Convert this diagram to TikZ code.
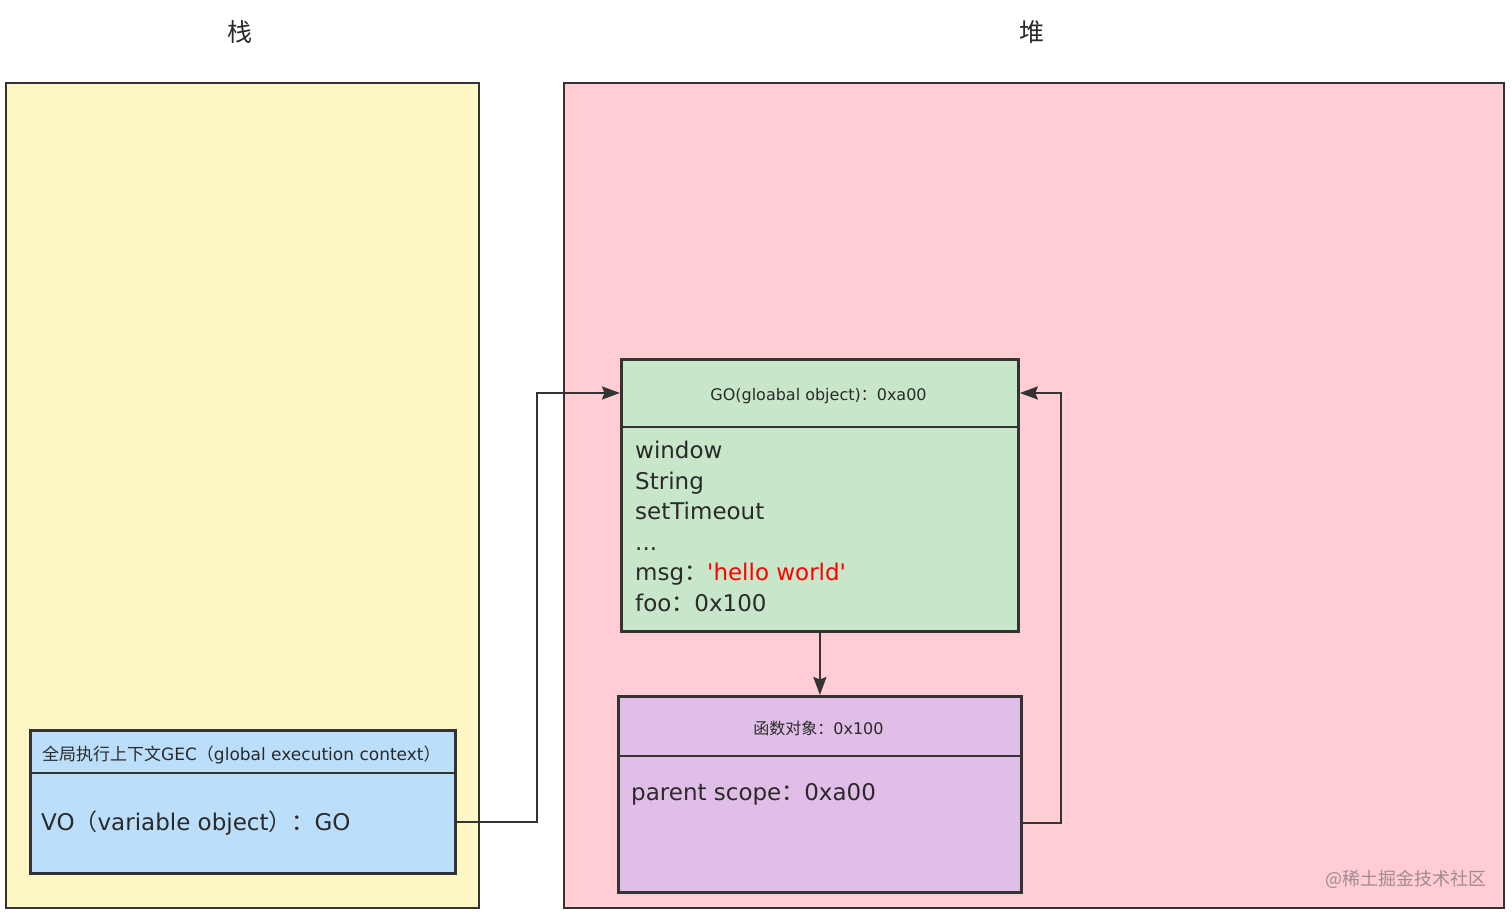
\documentclass[tikz,border=0pt]{standalone}
\usepackage{fontspec}
\setmainfont{DejaVu Sans}
\newfontfamily\qf{DejaVu Sans}
\newfontfamily\cjk{Noto Sans CJK SC}
\newcommand\zh[1]{{\cjk #1}}
\usetikzlibrary{arrows.meta}
\definecolor{stackfill}{HTML}{FDF7C5}
\definecolor{heapfill}{HTML}{FFCDD3}
\definecolor{gofill}{HTML}{C8E6C9}
\definecolor{fnfill}{HTML}{E1BEE7}
\definecolor{gecfill}{HTML}{BBDEFB}
\definecolor{edge}{HTML}{333333}
\definecolor{txt}{HTML}{2A2A2A}
\definecolor{wm}{HTML}{A08C90}
\tikzset{headtip/.tip={Stealth[length=18pt,width=13pt,inset=2.5pt]}}
\begin{document}
\begin{tikzpicture}[x=1pt,y=-1pt,
  region/.style={draw=edge,line width=2pt,anchor=north west,inner sep=0pt},
  objbox/.style={draw=edge,line width=2.8pt,anchor=north west,inner sep=0pt},
  divider/.style={draw=edge,line width=2.8pt},
  title/.style={font=\cjk\fontsize{25}{25}\selectfont,text=txt,inner sep=0pt},
  head/.style={font=\fontsize{16}{16}\selectfont,text=txt,inner sep=0pt,anchor=base},
  body/.style={font=\fontsize{23}{23}\selectfont,text=txt,inner sep=0pt,anchor=base west},
  link/.style={draw=edge,line width=2.2pt,-headtip}]
\useasboundingbox (0,0) rectangle (1512,913);
\fill[white] (0,0) rectangle (1512,913);
% regions
\node[region,fill=stackfill,minimum width=473,minimum height=825] (stack) at (5,82) {};
\node[region,fill=heapfill,minimum width=940,minimum height=825] (heap) at (563,82) {};
\node[title] (ttstack) at (240,32) {栈};
\node[title] (ttheap) at (1032,32) {堆};
% GO box
\node[objbox,fill=gofill,minimum width=397,minimum height=272] (go) at (620,358) {};
\draw[divider] (620,427) -- (1017,427);
\node[head] (gohead) at (818.5,400) {GO(gloabal object)\zh{：}0xa00};
\node[body] (l1) at (635,458) {window};
\node[body] (l2) at (635,489) {String};
\node[body] (l3) at (635,519.5) {setTimeout};
\node[body] (l4) at (635,550) {...};
\node[body] (l5) at (635,580.5) {msg\zh{：}\textcolor{red}{{\qf'}hello world{\qf'}}};
\node[body] (l6) at (635,611) {foo\zh{：}0x100};
% function object
\node[objbox,fill=fnfill,minimum width=403,minimum height=196] (fn) at (617,695) {};
\draw[divider] (617,756) -- (1020,756);
\node[head] (fnhead) at (818.5,734) {\zh{函数对象：}0x100};
\node[body] (ps) at (631,800.5) {parent scope\zh{：}0xa00};
% GEC
\node[objbox,fill=gecfill,minimum width=425,minimum height=143] (gec) at (29,729) {};
\draw[divider] (29,773) -- (454,773);
\node[head,anchor=base west,font=\fontsize{17}{17}\selectfont] (gechead) at (42,760) {\zh{全局执行上下文}GEC\zh{（}global execution context\zh{）}};
\node[body] (vo) at (41,830.5) {VO\zh{（}variable object\zh{）：}GO};
% connectors
\coordinate (c1) at (537,822);
\coordinate (c2) at (537,393);
\coordinate (c3) at (1061,823);
\coordinate (c4) at (1061,393);
\draw[link] (gec.east |- c1) -- (c1) -- (c2) -- (go.west |- c2);
\draw[link] (go.south) -- (fn.north);
\draw[link] (fn.east |- c3) -- (c3) -- (c4) -- (go.east |- c4);
% watermark
\node[font=\cjk\fontsize{18}{18}\selectfont,text=wm,inner sep=0pt,anchor=base east] (wmark) at (1487,885) {@稀土掘金技术社区};
\end{tikzpicture}
\end{document}
